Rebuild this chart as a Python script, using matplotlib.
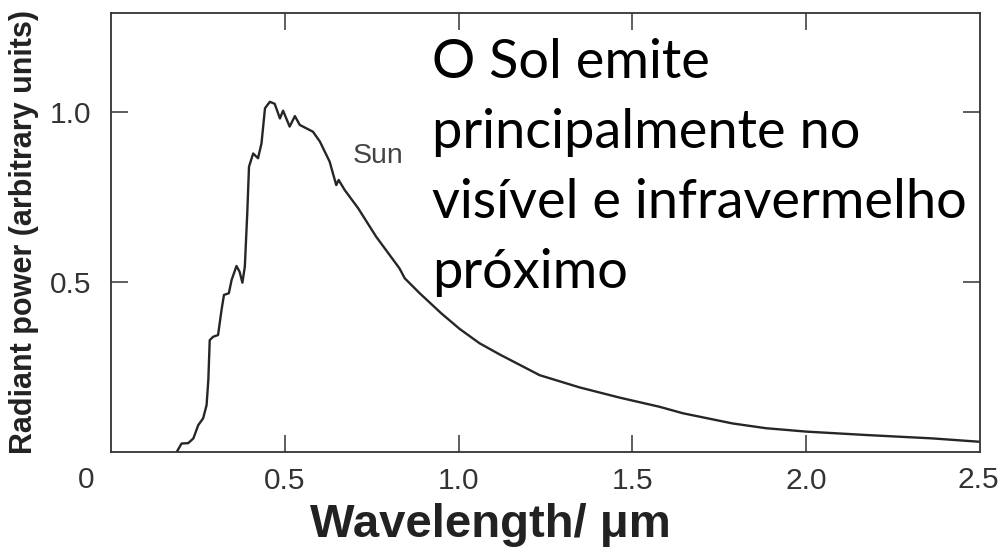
import matplotlib
matplotlib.use("Agg")
import matplotlib.pyplot as plt

# ---- data ----
wavelength = [0.189, 0.203, 0.222, 0.237, 0.251, 0.265, 0.275, 0.280, 0.284, 0.294,
              0.308, 0.318, 0.325, 0.339, 0.347, 0.361, 0.370, 0.378, 0.385, 0.392,
              0.397, 0.409, 0.423, 0.433, 0.443, 0.457, 0.471, 0.486, 0.495, 0.514,
              0.529, 0.543, 0.562, 0.581, 0.601, 0.629, 0.648, 0.655, 0.672, 0.711,
              0.763, 0.830, 0.845, 0.888, 0.950, 1.003, 1.060, 1.118, 1.233, 1.348,
              1.463, 1.578, 1.645, 1.788, 1.884, 2.000, 2.172, 2.363, 2.500]
power = [0.000, 0.025, 0.026, 0.040, 0.079, 0.099, 0.138, 0.212, 0.329, 0.339,
         0.344, 0.418, 0.462, 0.467, 0.506, 0.547, 0.530, 0.498, 0.545, 0.702,
         0.839, 0.878, 0.864, 0.908, 1.011, 1.030, 1.024, 0.981, 1.004, 0.957,
         0.988, 0.962, 0.952, 0.942, 0.913, 0.854, 0.785, 0.800, 0.771, 0.717,
         0.633, 0.540, 0.511, 0.467, 0.408, 0.362, 0.320, 0.287, 0.226, 0.190,
         0.160, 0.133, 0.114, 0.084, 0.070, 0.060, 0.050, 0.040, 0.030]

xticks = [0.5, 1.0, 1.5, 2.0]
xtick_labels = ["0.5", "1.0", "1.5", "2.0"]
yticks = [0.5, 1.0]
ytick_labels = ["0.5", "1.0"]
curve_label = "Sun"
note_lines = ["O Sol emite", "principalmente no", "visível e infravermelho", "próximo"]
xlabel = "Wavelength/ μm"
ylabel = "Radiant power (arbitrary units)"

W, H = 1001, 549
fig = plt.figure(figsize=(W / 100, H / 100), dpi=100)
ax = fig.add_axes([111 / W, 1 - 452 / H, 869 / W, 439 / H])

ax.plot(wavelength, power, color="#262626", lw=1.7, solid_joinstyle="round")
ax.set_xlim(0, 2.5)
ax.set_ylim(0, 439 / 340)

dark = "#333333"
for s in ax.spines.values():
    s.set_color(dark)
    s.set_linewidth(1.3)

ax.set_xticks(xticks)
ax.set_xticklabels(xtick_labels)
ax.set_yticks(yticks)
ax.set_yticklabels(ytick_labels)
ax.tick_params(direction="in", length=12, width=1.1, color=dark,
               top=True, right=True, labelsize=21.5, labelcolor=dark)
ax.tick_params(axis="x", pad=10.5)
ax.tick_params(axis="y", pad=14)
for t in ax.get_xticklabels() + ax.get_yticklabels():
    t.set_family("Liberation Sans")

# extra end labels "0" and "2.5" on the x axis row
lab_y = 1 - 480 / H
fig.text(86 / W, lab_y, "0", ha="center", va="center", fontsize=21.5,
         color=dark, family="Liberation Sans")
fig.text(978 / W, lab_y, "2.5", ha="center", va="center", fontsize=21.5,
         color=dark, family="Liberation Sans")

# curve label
ax.text(0.695, 0.87, curve_label, fontsize=20.5, color="#444444",
        family="Liberation Sans", ha="left", va="center")

# axis titles
fig.text(490 / W, 1 - 537 / H, xlabel, ha="center", va="baseline",
         fontsize=34, fontweight="bold", color="#222222", family="Liberation Sans")
fig.text(24 / W, 1 - 232 / H, ylabel, ha="center", va="center", rotation=90,
         fontsize=22, fontweight="bold", color="#222222", family="Liberation Sans")

# annotation text
baselines = [78, 148, 218, 288]
for line, b in zip(note_lines, baselines):
    fig.text(432 / W, 1 - b / H, line, ha="left", va="baseline",
             fontsize=39, color="black", family="Lato")

fig.savefig("out.png", dpi=100)
